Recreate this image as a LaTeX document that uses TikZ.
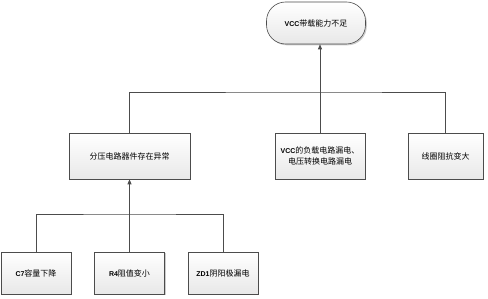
\documentclass[tikz,border=0pt]{standalone}
\usepackage{fontspec}
\setmainfont{Noto Sans CJK SC}
\newfontfamily\latfont{Liberation Sans}
\usetikzlibrary{arrows.meta, positioning, shadows}

\newcommand{\lat}[1]{{\latfont\bfseries\fontsize{7}{9}\selectfont #1}}

\begin{document}
\begin{tikzpicture}[
    x=1pt, y=-1pt,
    every node/.style={font=\fontsize{8}{11}\selectfont},
    box/.style={draw=black!70, line width=0.6pt, top color=white, bottom color=black!9,
        minimum width=#1, align=center, inner sep=1pt,
        drop shadow={shadow xshift=1.3pt, shadow yshift=-1.3pt, fill=black!40, opacity=.5}},
    midbox/.style={box=#1, minimum height=46pt},
    lowbox/.style={box=70pt, minimum height=42pt},
    link/.style={draw=black!70, line width=0.7pt},
    arrow/.style={link, -{Triangle[length=5pt, width=4pt]}}
]
\useasboundingbox (0,0) rectangle (488,299);

% Nodes
\node[box=99pt, minimum height=42pt, rounded corners=19pt] (top) at (316,23) {\lat{VCC}带载能力不足};

\node[midbox=121pt] (divider) at (129.5,156) {分压电路器件存在异常};
\node[midbox=90pt] (vccleak) at (320,156) {\lat{VCC}的负载电路漏电、\\电压转换电路漏电};
\node[midbox=75pt] (coil) at (445.5,156) {线圈阻抗变大};

\node[lowbox] (c7) at (36,273) {\lat{C7}容量下降};
\node[lowbox] (r4) at (129.5,273) {\lat{R4}阻值变小};
\node[lowbox] (zd1) at (223,273) {\lat{ZD1}阴阳极漏电};

\coordinate (upbus) at (320,92);
\coordinate (lowbus) at (129.5,214);

% Connectors
\draw[arrow] (vccleak.north) -- (top.south -| vccleak.north);
\draw[link] (divider.north) |- (upbus) -| (coil.north);

\draw[arrow] (r4.north) -- (divider.south);
\draw[link] (c7.north) |- (lowbus) -| (zd1.north);

\end{tikzpicture}
\end{document}
